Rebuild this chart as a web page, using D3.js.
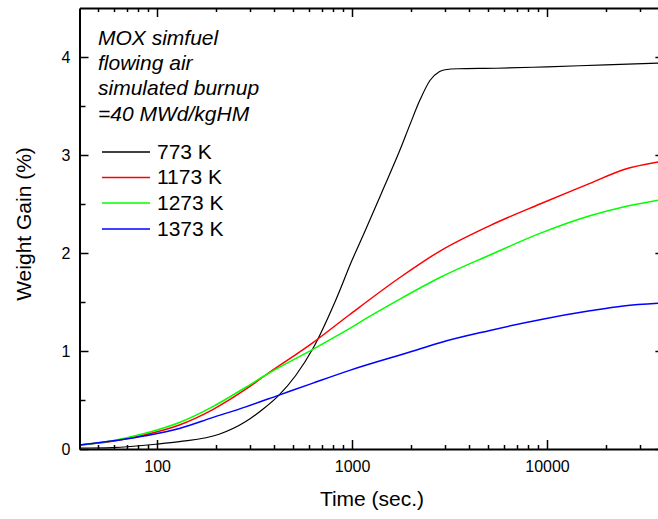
<!doctype html>
<html>
  <head>
    <script src="https://d3js.org/d3.v7.min.js"></script>
    <style>
      body { margin: 0; background: #fff; }
      text { font-family: "Liberation Sans", Arial, sans-serif; }
    </style>
  </head>
  <body>
    <svg width="658" height="519"></svg>
    <script>
      // series: time (sec.) and weight gain (%)
      var seriesNames = ["773 K", "1173 K", "1273 K", "1373 K"];
      var seriesColors = ["#000000", "#ff0000", "#00ff00", "#0000ff"];

      var t773 = [40, 59, 100, 130, 208, 285, 346, 422, 514, 632, 817, 1002, 1169, 1436, 1760, 1981, 2229, 2509, 2800, 3000, 3500, 5500, 10000, 20000, 40000];
      var w773 = [0.01, 0.015, 0.05, 0.075, 0.15, 0.28, 0.40, 0.55, 0.75, 1.03, 1.50, 1.93, 2.23, 2.64, 3.05, 3.31, 3.56, 3.76, 3.85, 3.87, 3.88, 3.885, 3.90, 3.92, 3.94];

      var t1173 = [40, 59, 87, 130, 192, 285, 361, 625, 970, 1760, 2824, 5097, 9197, 16600, 24600, 40000];
      var w1173 = [0.04, 0.08, 0.145, 0.245, 0.40, 0.61, 0.755, 1.08, 1.37, 1.75, 2.02, 2.28, 2.50, 2.71, 2.85, 2.94];

      var t1273 = [40, 59, 87, 130, 192, 285, 361, 632, 964, 1188, 1760, 2824, 5097, 9197, 16600, 24600, 40000];
      var w1273 = [0.04, 0.085, 0.16, 0.27, 0.43, 0.63, 0.755, 1.02, 1.225, 1.335, 1.53, 1.75, 1.98, 2.20, 2.38, 2.47, 2.55];

      var t1373 = [40, 87, 130, 192, 285, 422, 625, 964, 2144, 2824, 5097, 9197, 16600, 24600, 40000];
      var w1373 = [0.04, 0.135, 0.21, 0.32, 0.43, 0.55, 0.67, 0.80, 1.01, 1.085, 1.21, 1.32, 1.41, 1.46, 1.49];

      var seriesTimes = [t773, t1173, t1273, t1373];
      var seriesValues = [w773, w1173, w1273, w1373];

      var xMajorTicks = [100, 1000, 10000];
      var xMinorTicks = [50, 60, 70, 80, 90, 200, 300, 400, 500, 600, 700, 800, 900,
                         2000, 3000, 4000, 5000, 6000, 7000, 8000, 9000, 20000, 30000];
      var yMajorTicks = [0, 1, 2, 3, 4];
      var yMinorTicks = [0.5, 1.5, 2.5, 3.5];

      var noteLines = ["MOX simfuel", "flowing air", "simulated burnup", "=40 MWd/kgHM"];

      (function() {
        var svg = d3.select("svg");

        var pLeft = 79.5, pRight = 664.4, pTop = 8, pBottom = 449;

        var x = d3.scaleLog().domain([40, 40000]).range([pLeft, pRight]);
        var y = d3.scaleLinear().domain([0, 4.5]).range([pBottom, pTop]);

        svg.append("defs").append("clipPath").attr("id", "plotclip")
          .append("rect")
            .attr("x", pLeft).attr("y", pTop)
            .attr("width", pRight - pLeft).attr("height", pBottom - pTop);

        // lines
        var line = d3.line()
          .x(d => x(d[0]))
          .y(d => y(d[1]))
          .curve(d3.curveMonotoneX);

        var plot = svg.append("g").attr("clip-path", "url(#plotclip)");
        seriesNames.forEach(function(name, i) {
          var pts = seriesTimes[i].map((t, j) => [t, seriesValues[i][j]]);
          plot.append("path")
            .datum(pts)
            .attr("fill", "none")
            .attr("stroke", seriesColors[i])
            .attr("stroke-width", i == 0 ? 1.2 : 1.5)
            .attr("d", line);
        });

        // inward tick marks on all four sides
        var ticks = svg.append("g").attr("stroke", "#000").attr("stroke-width", 1.5);
        function xTicks(vals, len) {
          vals.forEach(function(v) {
            var px = Math.round(x(v)) + 0.5;
            ticks.append("line").attr("x1", px).attr("x2", px).attr("y1", pBottom).attr("y2", pBottom - len);
            ticks.append("line").attr("x1", px).attr("x2", px).attr("y1", pTop).attr("y2", pTop + len);
          });
        }
        function yTicks(vals, len) {
          vals.forEach(function(v) {
            var py = Math.round(y(v)) + 0.5;
            ticks.append("line").attr("y1", py).attr("y2", py).attr("x1", pLeft).attr("x2", pLeft + len);
            ticks.append("line").attr("y1", py).attr("y2", py).attr("x1", pRight).attr("x2", pRight - len);
          });
        }
        xTicks(xMajorTicks, 9);
        xTicks(xMinorTicks, 4);
        yTicks(yMajorTicks, 9);
        yTicks(yMinorTicks, 6);

        // axes: frame lines and labels
        function addAxis(axis, tx, ty) {
          var g = svg.append("g").attr("transform", `translate(${tx},${ty})`).call(axis);
          g.attr("font-family", null);
          g.select(".domain").attr("stroke", "#000").attr("stroke-width", 2);
          g.selectAll(".tick text").attr("fill", "#000").style("font-size", "16px");
          return g;
        }

        addAxis(d3.axisBottom(x).tickValues(xMajorTicks).tickFormat(d3.format("d"))
          .tickSize(0).tickPadding(12), 0, pBottom);
        addAxis(d3.axisTop(x).tickValues([]).tickSize(0), 0, pTop);
        addAxis(d3.axisLeft(y).tickValues(yMajorTicks).tickFormat(d3.format("d"))
          .tickSize(0).tickPadding(9), pLeft, 0);
        addAxis(d3.axisRight(y).tickValues([]).tickSize(0), pRight, 0);

        // axis titles
        svg.append("text")
          .attr("x", 372).attr("y", 506)
          .attr("text-anchor", "middle")
          .style("font-size", "21px")
          .text("Time (sec.)");

        svg.append("text")
          .attr("transform", "translate(31,224) rotate(-90)")
          .attr("text-anchor", "middle")
          .style("font-size", "21px")
          .text("Weight Gain (%)");

        // annotation
        var noteY = [45, 69.5, 94.5, 121];
        svg.append("g").selectAll("text")
          .data(noteLines)
          .join("text")
            .attr("x", 98)
            .attr("y", (d, i) => noteY[i])
            .style("font-size", "21px")
            .attr("font-style", "italic")
            .text(d => d);

        // legend
        var legendY = [152, 177.5, 203, 229];
        var legend = svg.append("g").selectAll("g")
          .data(seriesNames)
          .join("g")
            .attr("transform", (d, i) => `translate(102,${legendY[i]})`);
        legend.append("line")
          .attr("x1", 0).attr("x2", 48)
          .attr("stroke", (d, i) => seriesColors[i])
          .attr("stroke-width", 1.5);
        legend.append("text")
          .attr("x", 55).attr("dy", "0.33em")
          .style("font-size", "21px")
          .text(d => d);
      })();
    </script>
  </body>
</html>
